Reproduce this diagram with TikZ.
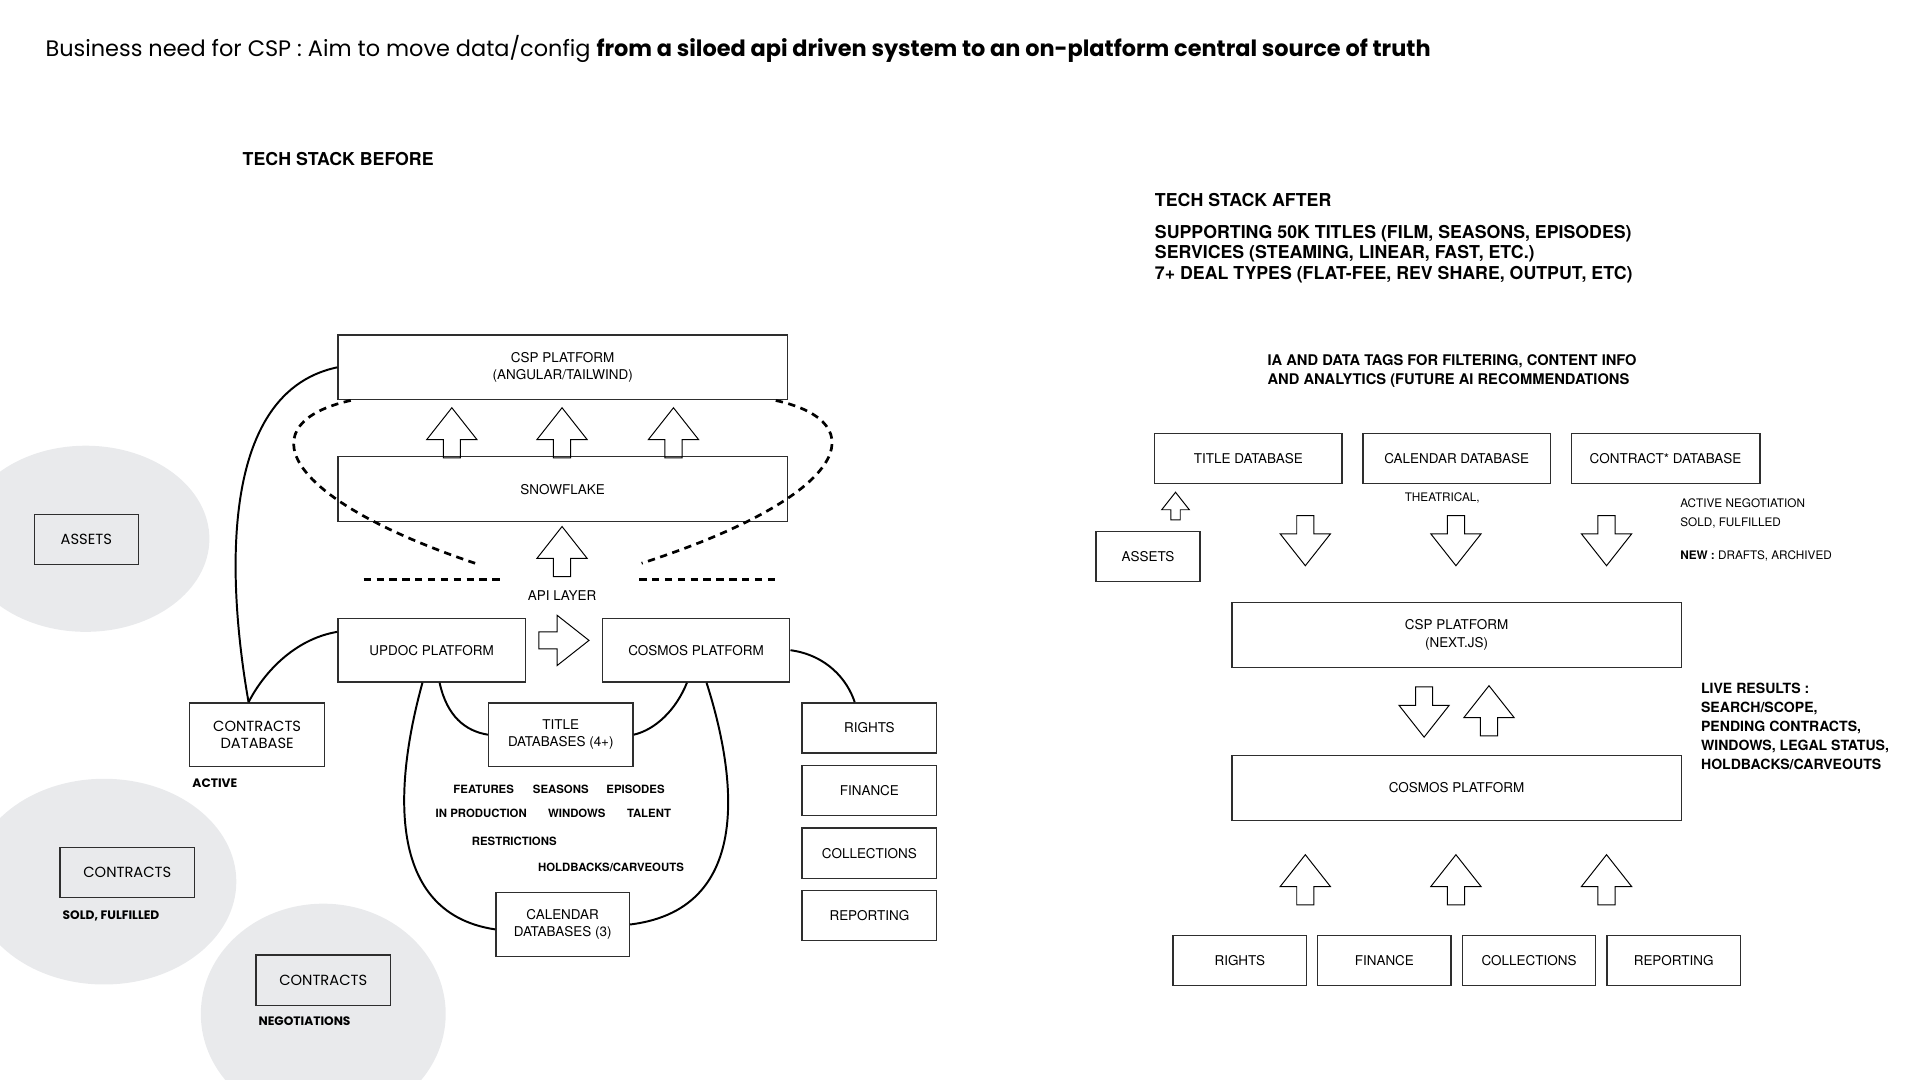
\documentclass[tikz,border=0pt]{standalone}
\usepackage{fontspec}
\setmainfont{TeX Gyre Heros}
\newfontfamily\geofont{Poppins}
\usetikzlibrary{positioning}

\definecolor{bubblegray}{HTML}{E9EAEC}
\definecolor{linegray}{HTML}{2E2E2E}

\newcommand{\blockup}[3][1]{%
  \draw[blockarrow, shift={(#2,#3)}, scale=#1]
    (0,0) -- (20.5,26) -- (7,26) -- (7,41) -- (-7,41) -- (-7,26) -- (-20.5,26) -- cycle;}
\newcommand{\blockdown}[2]{%
  \draw[blockarrow, shift={(#1,#2)}]
    (0,0) -- (20.5,-26) -- (7,-26) -- (7,-41) -- (-7,-41) -- (-7,-26) -- (-20.5,-26) -- cycle;}
\newcommand{\blockright}[2]{%
  \draw[blockarrow, shift={(#1,#2)}]
    (0,0) -- (-26,20.5) -- (-26,7) -- (-41,7) -- (-41,-7) -- (-26,-7) -- (-26,-20.5) -- cycle;}

\tikzset {
  % plain box, used on both stacks
  box/.style = {
    draw = linegray,
    line width = 1.1pt,
    minimum width = 110pt,
    minimum height = 41pt,
    inner sep = 2pt,
    align = center,
    font = \fontsize{11}{14}\selectfont
  },
  widebox/.style = {box, minimum width = 367pt, minimum height = 53pt},
  midbox/.style = {box, minimum width = 153pt, minimum height = 52pt},
  geobox/.style = {box, font = \geofont\fontsize{12}{14}\selectfont},
  bubble/.style = {fill = bubblegray},
  headline/.style = {anchor = west, inner sep = 0, font = \geofont\fontsize{18.3}{22}\selectfont},
  heading/.style = {anchor = west, inner sep = 0, font = \bfseries\fontsize{14.5}{17}\selectfont},
  note/.style = {anchor = north west, inner sep = 0, align = left},
  tag/.style = {inner sep = 0, font = \bfseries\fontsize{9.3}{11}\selectfont},
  geotag/.style = {anchor = west, inner sep = 0, font = \geofont\bfseries\fontsize{10}{12}\selectfont},
  sidetag/.style = {anchor = west, inner sep = 0, font = \fontsize{9.6}{11}\selectfont},
  link/.style = {draw = black, line width = 1.6pt},
  dashlink/.style = {draw = black, line width = 2.2pt, dash pattern = on 6pt off 4.5pt},
  blockarrow/.style = {draw = black, line width = 0.8pt, line join = miter}
}

\begin{document}
\begin{tikzpicture}[x=1pt, y=-1pt]
  \useasboundingbox (0,0) rectangle (1568,882);

  % grey bubbles behind the old sources
  \fill[bubble] (70,440) ellipse [x radius=101pt, y radius=76pt];
  \fill[bubble] (85,720) ellipse [x radius=108pt, y radius=84pt];
  \fill[bubble] (264,828) ellipse [x radius=100pt, y radius=90pt];

  \node[headline] (title) at (37,40) {Business need for CSP : Aim to move data/config \textbf{from a siloed api driven system to an on-platform central source of truth}};

  % ---- before ----
  \node[heading] (before) at (198,130) {TECH STACK BEFORE};

  \node[geobox, minimum width=85pt] (assets) at (70.5,440.5) {ASSETS};
  \node[geobox] (contracts) at (104,712.5) {CONTRACTS};
  \node[geotag] (sold) at (51,748) {SOLD, FULFILLED};
  \node[geobox] (contractsneg) at (264,800.5) {CONTRACTS};
  \node[geotag] (neg) at (211,834) {NEGOTIATIONS};

  \node[widebox] (csp) at (459.5,300) {CSP PLATFORM\\(ANGULAR/TAILWIND)};
  \node[widebox] (snow) at (459.5,399.5) {SNOWFLAKE};
  \node[midbox] (updoc) at (352.5,531) {UPDOC PLATFORM};
  \node[midbox] (cosmos) at (568.5,531) {COSMOS PLATFORM};
  \node[geobox, minimum height=52pt] (condb) at (210,600) {CONTRACTS\\DATABASE};
  \node[geotag] (active) at (157,640) {ACTIVE};
  \node[box, minimum width=118pt, minimum height=52pt] (titledb) at (458,600) {TITLE\\DATABASES (4+)};
  \node[box, minimum width=109pt, minimum height=52pt] (caldb) at (459.5,755) {CALENDAR\\DATABASES (3)};

  \node[tag] (features) at (395,645) {FEATURES};
  \node[tag] (seasons) at (458,645) {SEASONS};
  \node[tag] (episodes) at (519,645) {EPISODES};
  \node[tag] (inprod) at (393,664) {IN PRODUCTION};
  \node[tag] (windows) at (471,664) {WINDOWS};
  \node[tag] (talent) at (530,664) {TALENT};
  \node[tag] (restrict) at (420,687) {RESTRICTIONS};
  \node[tag] (holdbacks) at (499,708) {HOLDBACKS/CARVEOUTS};

  \node[box] (rights) at (710,594.5) {RIGHTS};
  \node[box] (finance) [below=9pt of rights] {FINANCE};
  \node[box] (collect) [below=9pt of finance] {COLLECTIONS};
  \node[box] (report) [below=9pt of collect] {REPORTING};

  \node[inner sep=0, font=\fontsize{11}{13}\selectfont] (api) at (459,486) {API LAYER};
  \coordinate (apil) at (388,460);
  \coordinate (apir) at (524,460);

  \blockup{369}{333}
  \blockup{459}{333}
  \blockup{550}{333}
  \blockup{459}{430}
  \blockright{481}{523}

  \draw[dashlink] (297,473) -- (408,473);
  \draw[dashlink] (522,473) -- (633,473);
  \draw[dashlink] ([xshift=11pt]csp.south west) .. controls (205,345) and (225,405) .. (apil);
  \draw[dashlink] ([xshift=-10pt]csp.south east) .. controls (715,345) and (694,405) .. (apir);

  \draw[link] (csp.west) .. controls (170,322) and (190,500) .. ([xshift=-7pt]condb.north);
  \draw[link] ([yshift=15pt]updoc.west) .. controls (240,522) and (215,550) .. ([xshift=-7pt]condb.north);
  \draw[link] ([xshift=-7.5pt]updoc.south) .. controls (325,630) and (310,745) .. ([yshift=-4pt]caldb.west);
  \draw[link] ([xshift=6.5pt]updoc.south) .. controls (365,585) and (380,597) .. (titledb.west);
  \draw[link] ([xshift=-7.5pt]cosmos.south) .. controls (552,580) and (535,596) .. (titledb.east);
  \draw[link] ([xshift=8.5pt]cosmos.south) .. controls (597,620) and (622,742) .. (caldb.east);
  \draw[link] (cosmos.east) .. controls (675,535) and (692,555) .. ([xshift=-12pt]rights.north);

  % ---- after ----
  \node[heading] (after) at (943,163) {TECH STACK AFTER};
  \node[note, font=\bfseries\fontsize{14.5}{17}\selectfont] (scope) at (943,183.5)
    {SUPPORTING 50K TITLES (FILM, SEASONS, EPISODES)\\SERVICES (STEAMING, LINEAR, FAST, ETC.)\\7+ DEAL TYPES (FLAT-FEE, REV SHARE, OUTPUT, ETC)};
  \node[note, font=\bfseries\fontsize{12}{15}\selectfont] (tags) at (1035,289.7)
    {IA AND DATA TAGS FOR FILTERING, CONTENT INFO\\AND ANALYTICS (FUTURE AI RECOMMENDATIONS};

  \node[box, minimum width=153pt] (title) at (1019.5,374.5) {TITLE DATABASE};
  \node[box, minimum width=153pt] (calendar) [right=16pt of title] {CALENDAR DATABASE};
  \node[box, minimum width=154pt] (contract) [right=16pt of calendar] {CONTRACT* DATABASE};
  \node[box, minimum width=85pt] (assets2) at (937.5,454.5) {ASSETS};

  \node[sidetag] (theatrical) at (1147,407) {THEATRICAL,};
  \node[sidetag] (activeneg) at (1372,411) {ACTIVE NEGOTIATION};
  \node[sidetag] (soldful) at (1372,427) {SOLD, FULFILLED};
  \node[sidetag] (newstate) at (1372,454) {\textbf{NEW :} DRAFTS, ARCHIVED};

  \blockup[0.55]{960}{402}
  \blockdown{1066}{462}
  \blockdown{1189}{462}
  \blockdown{1312}{462}

  \node[widebox] (csp2) at (1189.5,518.5) {CSP PLATFORM\\(NEXT.JS)};
  \node[widebox] (cosmos2) at (1189.5,643.5) {COSMOS PLATFORM};
  \blockdown{1163}{602}
  \blockup{1216}{560}

  \node[note, font=\bfseries\fontsize{11.5}{15.5}\selectfont] (live) at (1389,558)
    {LIVE RESULTS :\\SEARCH/SCOPE,\\PENDING CONTRACTS,\\WINDOWS, LEGAL STATUS,\\HOLDBACKS/CARVEOUTS};

  \blockup{1066}{698}
  \blockup{1189}{698}
  \blockup{1312}{698}

  \node[box, minimum width=109pt] (rights2) at (1012.5,784.5) {RIGHTS};
  \node[box, minimum width=109pt] (finance2) [right=8pt of rights2] {FINANCE};
  \node[box, minimum width=109pt] (collect2) [right=8pt of finance2] {COLLECTIONS};
  \node[box, minimum width=109pt] (report2) [right=8pt of collect2] {REPORTING};
\end{tikzpicture}
\end{document}
